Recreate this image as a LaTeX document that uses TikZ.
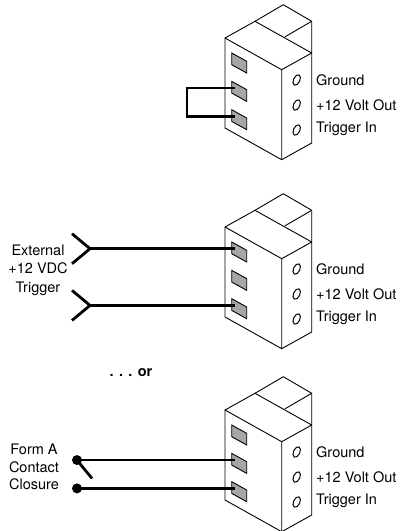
\documentclass[tikz,border=0pt]{standalone}
\usepackage{fontspec}
\setmainfont{TeX Gyre Heros}
\usepackage{tikz}
\usetikzlibrary{calc}

\tikzset{
  blk/.style={line width=0.9pt,line join=round},
  slot/.style={line width=0.9pt,fill=black!35},
  hole/.style={line width=1pt},
  wire/.style={line width=2.8pt},
  lbl/.style={font=\fontsize{14.5}{18.3}\selectfont,inner sep=0pt},
  dot/.style={circle,fill=black,inner sep=0pt,minimum size=10pt}
}

\begin{document}
\begin{tikzpicture}[x=1pt,y=-1pt]
      \useasboundingbox (0,0) rectangle (406,531);
      % the three terminal blocks
      \foreach \b/\y in {1/38,2/227,3/410}{
        \begin{scope}[shift={(225,\y)}]
          \draw[blk] (0,0) -- (0,90) -- (56.7,121.7) -- (56.7,31.7) -- cycle;
          \draw[blk] (56.7,31.7) -- (86.7,15) -- (86.7,105) -- (56.7,121.7);
          \draw[blk] (0,0) -- (30,-16.7) -- (86.7,15);
          \draw[blk] (30,-16.7) -- (58.3,-33.3) -- (86.7,-16.7) -- (86.7,15);
          \draw[blk] (60,-1.2) -- (86.7,-16.7);
          \foreach \k in {1,2,3}{
            \draw[slot] (6.7,15+28.35*\k-28.35) -- ++(15,8.3) -- ++(0,11.7) -- ++(-15,-8.3) -- cycle;
            \draw[hole] (71.7,42+25*\k-25) ellipse [x radius=3.2,y radius=5.6,rotate=-25];
            \coordinate (t\b-\k) at (10,21.7+28.35*\k-28.35);
          }
          \node[lbl,anchor=base west] (gnd\b) at (91,47.5) {Ground};
          \node[lbl,anchor=base west] (out\b) at (91,72.5) {+12 Volt Out};
          \node[lbl,anchor=base west] (trg\b) at (91,94.5) {Trigger In};
        \end{scope}
      }
      % jumper
      \draw[wire] (t1-2) -- ++(-48,0) |- (t1-3);
      % external trigger
      \coordinate (ext1) at (90,0 |- t2-1);
      \coordinate (ext2) at (90,0 |- t2-3);
      \draw[wire] (ext1) -- (t2-1);
      \draw[wire] (ext2) -- (t2-3);
      \draw[wire] ($(ext1)+(-18,-15)$) -- (ext1) -- ($(ext1)+(-18,15)$);
      \draw[wire] ($(ext2)+(-18,-15)$) -- (ext2) -- ($(ext2)+(-18,15)$);
      \node[lbl,align=center] (ext) at (38,270) {External\\+12 VDC\\Trigger};
      % contact closure
      \node[font=\fontsize{14.5}{18}\selectfont\bfseries] (or) at (131,373) {. . . or};
      \node[dot] (c1) at (77,0 |- t3-2) {};
      \node[dot] (c2) at (77,0 |- t3-3) {};
      \coordinate (arm) at (92,478.5);
      \draw[wire] (c1.center) -- (t3-2);
      \draw[wire] (c2.center) -- (t3-3);
      \draw[wire] (c1.center) -- (arm);
      \node[lbl,align=center,font=\fontsize{14.5}{17.5}\selectfont] (fa) at (34,467) {Form A\\Contact\\Closure};
    \end{tikzpicture}
\end{document}
